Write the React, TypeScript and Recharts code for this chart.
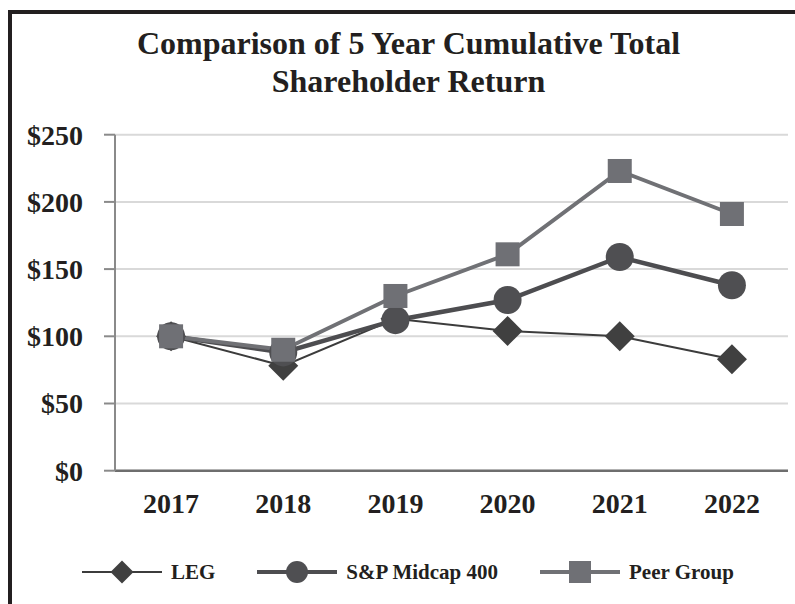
import React from 'react';
import { LineChart, Line, XAxis, YAxis, CartesianGrid } from 'recharts';

const categories = ['2017', '2018', '2019', '2020', '2021', '2022'];
const legValues = [100, 78, 113, 104, 100, 83];
const spValues = [100, 88, 112, 127, 159, 138];
const peerValues = [100, 90, 130, 161, 223, 191];
const yTicks = [0, 50, 100, 150, 200, 250];
const boundaryTicks = [0, 1, 2, 3, 4, 5, 6];
const centerTicks = categories.map((_, i) => i + 0.5);

const data = categories.map((year, i) => ({
  pos: i + 0.5,
  year,
  leg: legValues[i],
  sp: spValues[i],
  peer: peerValues[i],
}));

const FONT = '"Liberation Serif", "Times New Roman", serif';
const TEXT = '#231f20';

const series = [
  { key: 'leg', name: 'LEG', color: '#3c3c3c', fill: '#404040', width: 2, shape: 'diamond' },
  { key: 'sp', name: 'S&P Midcap 400', color: '#4d4d50', fill: '#4f4f52', width: 4.5, shape: 'circle' },
  { key: 'peer', name: 'Peer Group', color: '#707175', fill: '#6f7075', width: 4, shape: 'square' },
];

function Marker({ shape, cx, cy, fill, size }: { shape: string; cx: number; cy: number; fill: string; size: number }) {
  if (cx == null || cy == null) return null;
  if (shape === 'diamond') {
    const h = size;
    return <polygon points={`${cx},${cy - h} ${cx + h},${cy} ${cx},${cy + h} ${cx - h},${cy}`} fill={fill} />;
  }
  if (shape === 'circle') {
    return <circle cx={cx} cy={cy} r={size} fill={fill} />;
  }
  return <rect x={cx - size} y={cy - size} width={size * 2} height={size * 2} fill={fill} />;
}

const markerSize: Record<string, number> = { diamond: 15, circle: 14, square: 12 };
const legendMarkerSize: Record<string, number> = { diamond: 11.5, circle: 11, square: 11 };

export default function App() {
  return (
    <div style={{ position: 'absolute', left: 0, top: 0, width: 795, height: 604, overflow: 'hidden', background: '#fff' }}>
      <div
        style={{
          position: 'absolute',
          left: 8,
          top: 10,
          width: 900,
          height: 700,
          borderLeft: `4px solid ${TEXT}`,
          borderTop: `4px solid ${TEXT}`,
          boxSizing: 'border-box',
        }}
      />
      <div
        style={{
          position: 'absolute',
          left: 0,
          width: 817,
          top: 23.5,
          textAlign: 'center',
          fontFamily: FONT,
          fontWeight: 'bold',
          fontSize: 32,
          lineHeight: '38px',
          color: TEXT,
        }}
      >
        Comparison of 5 Year Cumulative Total
        <br />
        Shareholder Return
      </div>
      <div style={{ position: 'absolute', left: 0, top: 0 }}>
        <LineChart width={795} height={604} data={data} margin={{ top: 134.7, right: 7, bottom: 73.3, left: 0 }}>
          <CartesianGrid horizontal vertical={false} stroke="#d9d9d9" strokeWidth={2} />
          <XAxis
            xAxisId="bounds"
            dataKey="pos"
            type="number"
            domain={[0, 6]}
            ticks={boundaryTicks}
            tick={false}
            tickSize={10}
            height={10}
            axisLine={{ stroke: '#6e6e6e', strokeWidth: 2.5 }}
            tickLine={{ stroke: '#7a7a7a', strokeWidth: 2 }}
          />
          <XAxis
            xAxisId="labels"
            dataKey="pos"
            type="number"
            domain={[0, 6]}
            ticks={centerTicks}
            tickFormatter={(v: number) => categories[Math.floor(v)]}
            axisLine={false}
            tickLine={false}
            tickSize={0}
            tickMargin={12.7}
            height={50}
            tick={{ fontFamily: FONT, fontWeight: 'bold', fontSize: 28, fill: TEXT }}
          />
          <YAxis
            width={115}
            domain={[0, 250]}
            ticks={yTicks}
            tickFormatter={(v: number) => `$${v}`}
            tickSize={11}
            tickMargin={21}
            axisLine={{ stroke: '#8a8a8a', strokeWidth: 2 }}
            tickLine={{ stroke: '#8a8a8a', strokeWidth: 2 }}
            tick={{ fontFamily: FONT, fontWeight: 'bold', fontSize: 28, fill: TEXT }}
          />
          {series.map((s) => (
            <Line
              key={s.key}
              xAxisId="labels"
              dataKey={s.key}
              name={s.name}
              stroke={s.color}
              strokeWidth={s.width}
              isAnimationActive={false}
              dot={(p: any) => (
                <Marker key={`${s.key}-${p.index}`} shape={s.shape} cx={p.cx} cy={p.cy} fill={s.fill} size={markerSize[s.shape]} />
              )}
              activeDot={false}
            />
          ))}
        </LineChart>
      </div>
      <div
        style={{
          position: 'absolute',
          left: 82,
          top: 559.7,
          display: 'flex',
          alignItems: 'center',
          gap: 42,
          fontFamily: FONT,
          fontWeight: 'bold',
          fontSize: 21,
          color: TEXT,
          height: 24,
        }}
      >
        {series.map((s) => (
          <div key={s.key} style={{ display: 'flex', alignItems: 'center', height: 24 }}>
            <svg width={80} height={24} style={{ display: 'block' }}>
              <line x1={0} y1={12} x2={80} y2={12} stroke={s.color} strokeWidth={s.width === 2 ? 2 : 4} />
              <Marker shape={s.shape} cx={40} cy={12} fill={s.fill} size={legendMarkerSize[s.shape]} />
            </svg>
            <span style={{ marginLeft: 9, whiteSpace: 'nowrap', lineHeight: '24px' }}>{s.name}</span>
          </div>
        ))}
      </div>
    </div>
  );
}
